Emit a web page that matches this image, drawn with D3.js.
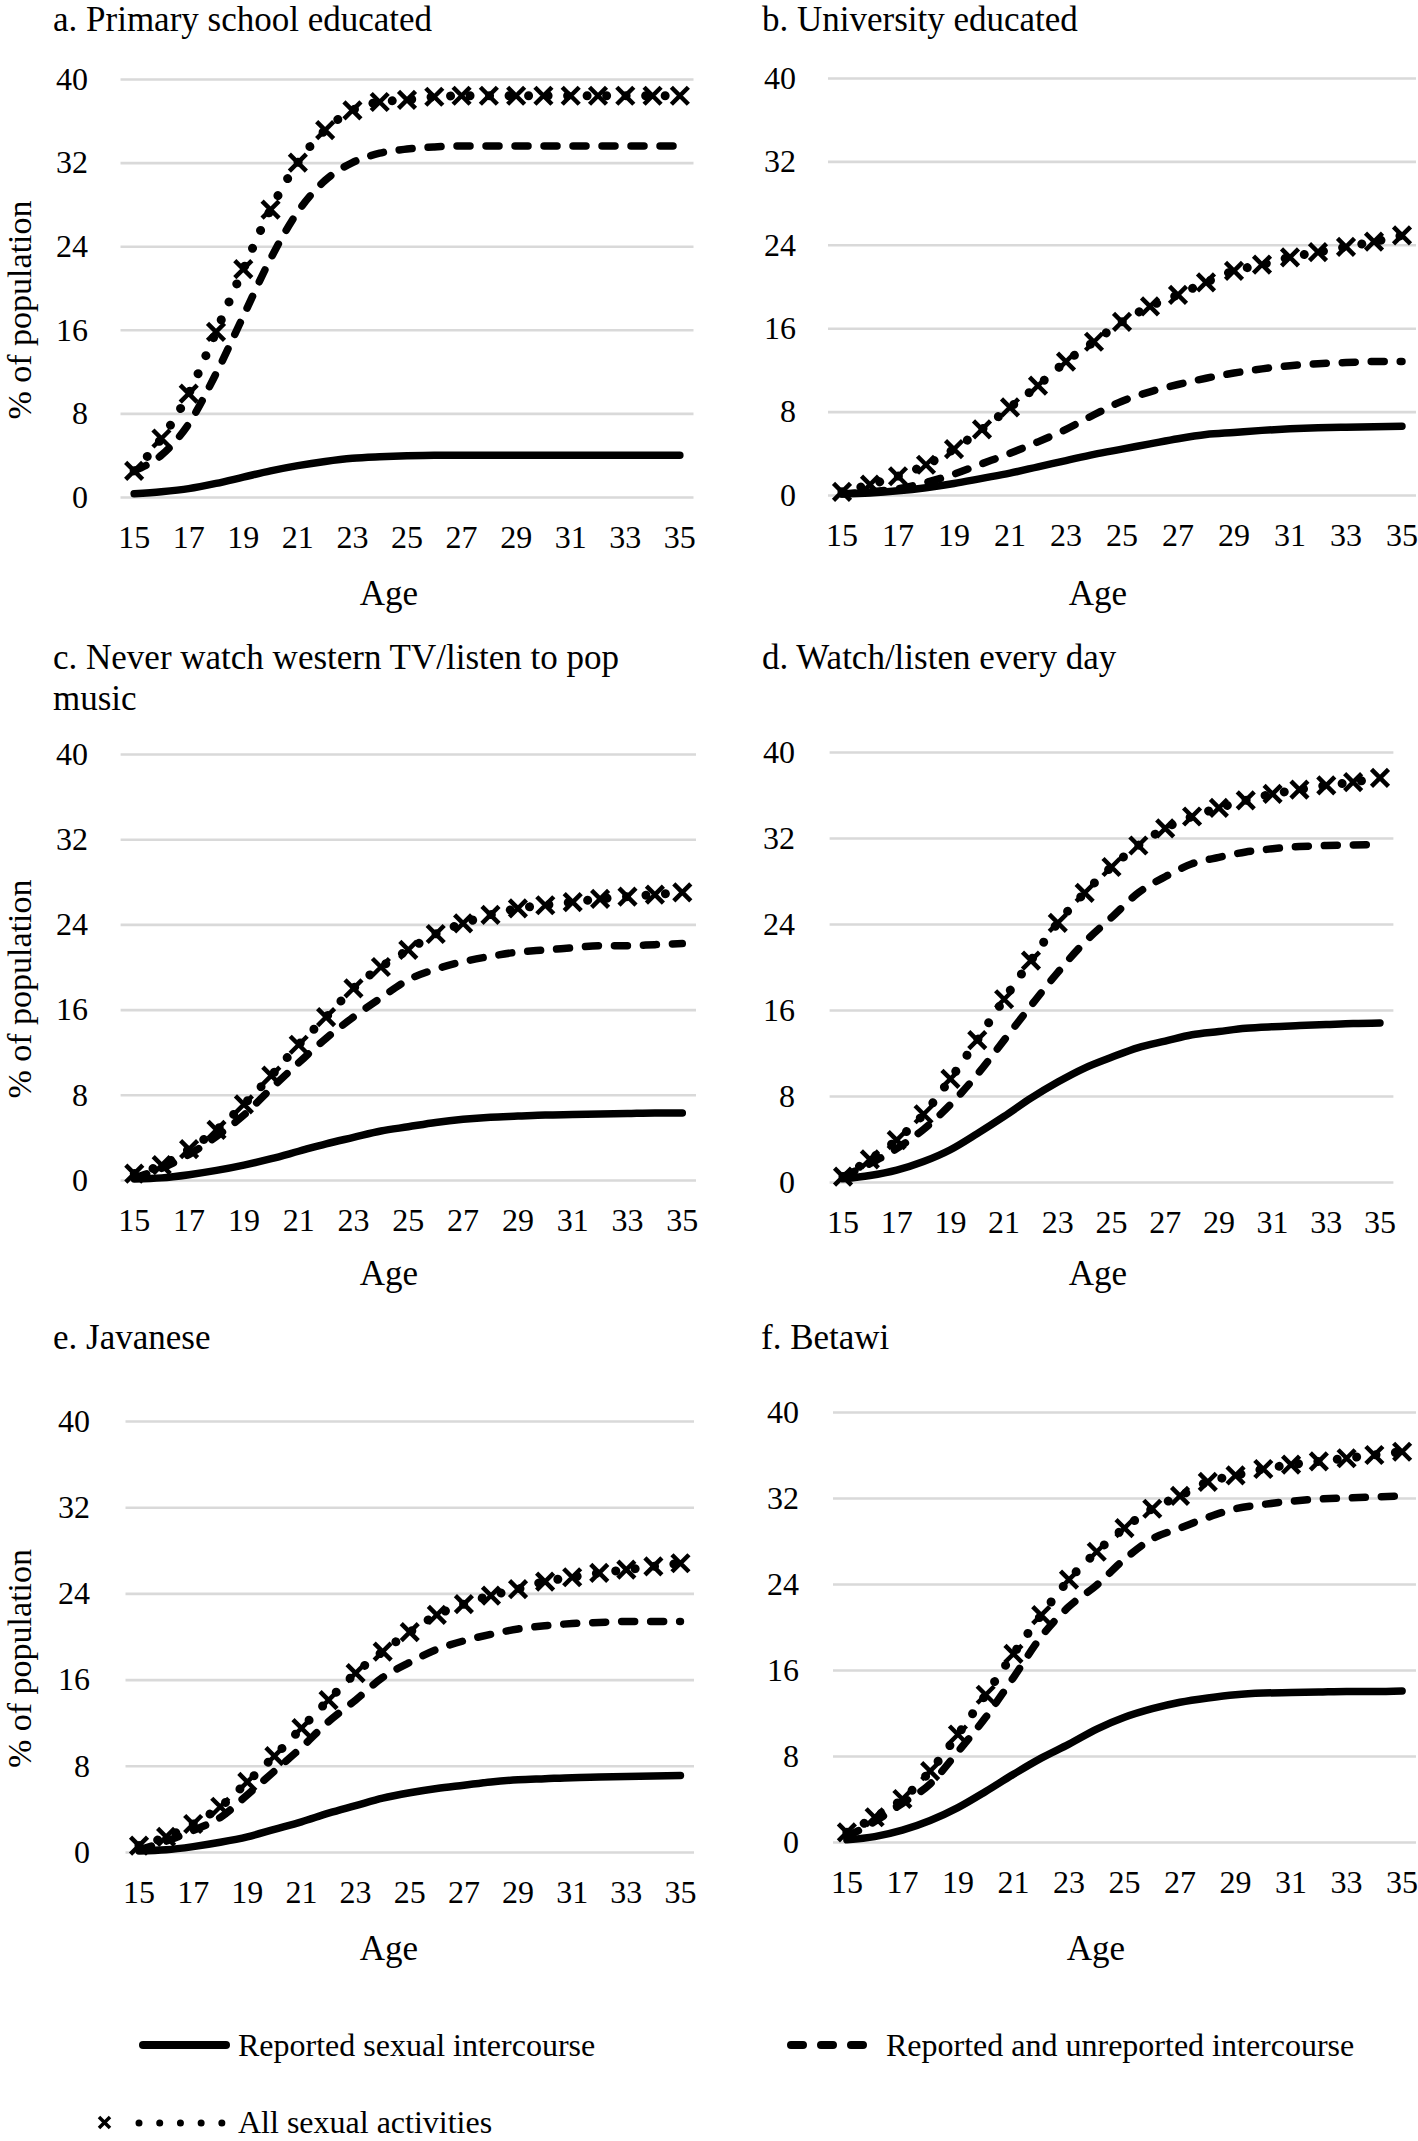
<!DOCTYPE html>
<html><head><meta charset="utf-8">
<script src="https://cdn.jsdelivr.net/npm/d3@7/dist/d3.min.js"></script>
<style>body{margin:0;background:#fff}svg{display:block}</style>
</head><body>
<svg id="chart" width="1418" height="2141"></svg>
<script>
// ---------- data ----------
const ages = [15,16,17,18,19,20,21,22,23,24,25,26,27,28,29,30,31,32,33,34,35];
const ageTickLabels = [15,17,19,21,23,25,27,29,31,33,35];
const yTickValues = [0,8,16,24,32,40];
const seriesNames = ["Reported sexual intercourse","Reported and unreported intercourse","All sexual activities"];

const panelTitles = [
  ["a. Primary school educated"],
  ["b. University educated"],
  ["c. Never watch western TV/listen to pop","music"],
  ["d. Watch/listen every day"],
  ["e. Javanese"],
  ["f. Betawi"]
];

// a. Primary school educated
const reportedA   = [0.3,0.5,0.8,1.3,1.9,2.5,3.0,3.4,3.7,3.85,3.95,4.0,4.0,4.0,4.0,4.0,4.0,4.0,4.0,4.0,4.0];
const unreportedA = [2.5,4.0,7.0,11.8,17.3,22.8,27.3,30.3,32.0,32.9,33.3,33.5,33.6,33.6,33.6,33.6,33.6,33.6,33.6,33.6,33.6];
const allA        = [2.5,5.6,9.9,15.8,21.8,27.5,32.0,35.1,37.0,37.8,38.0,38.3,38.4,38.4,38.4,38.4,38.4,38.4,38.4,38.4,38.4];
// b. University educated
const reportedB   = [0.1,0.2,0.4,0.7,1.1,1.6,2.1,2.7,3.3,3.9,4.4,4.9,5.4,5.8,6.0,6.2,6.35,6.45,6.5,6.55,6.6];
const unreportedB = [0.1,0.3,0.6,1.2,2.0,3.0,4.0,5.1,6.3,7.7,9.0,9.9,10.6,11.2,11.7,12.1,12.4,12.6,12.7,12.8,12.8];
const allB        = [0.3,1.0,1.8,2.9,4.4,6.3,8.4,10.5,12.8,14.7,16.6,18.1,19.2,20.4,21.5,22.1,22.8,23.3,23.8,24.3,24.9];
// c. Never watch western TV / listen to pop music
const reportedC   = [0.1,0.2,0.5,0.9,1.4,2.0,2.7,3.4,4.0,4.6,5.0,5.4,5.7,5.9,6.0,6.1,6.15,6.2,6.25,6.3,6.3];
const unreportedC = [0.2,1.1,2.4,4.1,6.1,8.6,11.0,13.3,15.3,17.1,18.8,19.8,20.5,21.0,21.4,21.6,21.8,22.0,22.0,22.1,22.2];
const allC        = [0.6,1.4,2.9,4.7,7.1,9.8,12.7,15.3,18.0,20.0,21.6,23.1,24.1,24.9,25.5,25.8,26.1,26.4,26.6,26.8,27.0];
// d. Watch/listen every day
const reportedD   = [0.3,0.6,1.1,1.9,3.0,4.5,6.1,7.8,9.3,10.6,11.6,12.5,13.1,13.7,14.0,14.3,14.45,14.55,14.65,14.75,14.8];
const unreportedD = [0.5,1.7,3.1,4.9,7.2,10.0,13.2,16.4,19.5,22.3,24.6,26.9,28.4,29.6,30.2,30.7,31.0,31.2,31.3,31.35,31.4];
const allD        = [0.5,2.1,3.9,6.3,9.6,13.2,17.0,20.6,24.1,26.9,29.3,31.3,32.9,34.0,34.8,35.5,36.1,36.5,36.9,37.2,37.6];
// e. Javanese
const reportedE   = [0.1,0.2,0.5,0.9,1.4,2.1,2.8,3.6,4.3,5.0,5.5,5.9,6.2,6.5,6.7,6.8,6.9,6.95,7.0,7.05,7.1];
const unreportedE = [0.2,1.0,2.0,3.2,5.3,7.5,9.7,12.1,14.1,16.2,17.6,18.8,19.6,20.2,20.7,21.0,21.2,21.3,21.4,21.4,21.4];
const allE        = [0.6,1.4,2.6,4.2,6.5,8.9,11.5,14.1,16.6,18.6,20.4,22.0,23.0,23.8,24.4,25.1,25.5,25.9,26.2,26.5,26.8];
// f. Betawi
const reportedF   = [0.2,0.5,1.1,2.0,3.2,4.7,6.3,7.8,9.1,10.5,11.6,12.4,13.0,13.4,13.7,13.85,13.9,13.95,14.0,14.0,14.05];
const unreportedF = [0.5,1.9,3.6,5.4,8.4,11.6,15.3,19.1,21.9,23.9,26.3,28.2,29.2,30.2,31.0,31.4,31.7,31.9,32.0,32.1,32.2];
const allF        = [0.9,2.3,4.0,6.6,10.0,13.7,17.5,21.1,24.4,27.0,29.2,31.0,32.2,33.5,34.1,34.7,35.1,35.4,35.7,36.0,36.3];

const panelData = [
  [reportedA, unreportedA, allA],
  [reportedB, unreportedB, allB],
  [reportedC, unreportedC, allC],
  [reportedD, unreportedD, allD],
  [reportedE, unreportedE, allE],
  [reportedF, unreportedF, allF]
];

// ---------- layout ----------
const layout = [
  {xl:120.5, xr:693.5, y0:497, y40:79,  tx:53,  ty:31,   ylab:true,  ageY:593,  ageX:389,  tickX:88},
  {xl:828,   xr:1416,  y0:495, y40:78,  tx:762, ty:31,   ylab:false, ageY:593,  ageX:1098, tickX:796},
  {xl:120.6, xr:696,   y0:1180,y40:754, tx:53,  ty:669,  ylab:true,  ageY:1273, ageX:389,  tickX:88},
  {xl:829.6, xr:1393.4,y0:1182,y40:752, tx:762, ty:669,  ylab:false, ageY:1273, ageX:1098, tickX:795},
  {xl:125.5, xr:694,   y0:1852,y40:1421,tx:53,  ty:1349, ylab:true,  ageY:1948, ageX:389,  tickX:90},
  {xl:833,   xr:1416,  y0:1842,y40:1412,tx:761, ty:1349, ylab:false, ageY:1948, ageX:1096, tickX:799}
];

const FONT = "'Liberation Serif','Times New Roman',Times,serif";
const svg = d3.select("#chart");
const styles = [
  {dash:null,        width:7.5, cap:"round"},
  {dash:"13,16",     width:7.5, cap:"round"},
  {dash:"0.01,19.5", width:9,   cap:"round"}
];

layout.forEach((L, i) => {
  const g = svg.append("g");
  const x = d3.scaleBand().domain(ages).range([L.xl, L.xr]).padding(0);
  const xc = a => x(a) + x.bandwidth()/2;
  const y = d3.scaleLinear().domain([0,40]).range([L.y0, L.y40]);

  // gridlines + y tick labels
  const yAxis = d3.axisLeft(y).tickValues(yTickValues).tickSize(-(L.xr - L.xl)).tickPadding(L.xl - L.tickX).tickFormat(d3.format("d"));
  const ya = g.append("g").attr("transform", `translate(${L.xl},0)`).call(yAxis);
  ya.select(".domain").remove();
  ya.selectAll(".tick line").attr("stroke", "#d9d9d9").attr("stroke-width", 2.6);
  ya.selectAll(".tick text").attr("font-family", FONT).attr("font-size", 32).attr("fill", "#000");

  // x tick labels
  const xAxis = d3.axisBottom(x).tickValues(ageTickLabels).tickSize(0).tickPadding(0);
  const xa = g.append("g").attr("transform", `translate(0,${L.y0})`).call(xAxis);
  xa.select(".domain").remove();
  xa.selectAll(".tick text").attr("font-family", FONT).attr("font-size", 32).attr("fill", "#000")
    .attr("dy", null).attr("y", 40).attr("dominant-baseline", "central");

  // titles
  const t = g.append("text").attr("x", L.tx).attr("y", L.ty)
    .attr("font-family", FONT).attr("font-size", 35).attr("fill", "#000");
  panelTitles[i].forEach((line, k) => {
    t.append("tspan").attr("x", L.tx).attr("dy", k === 0 ? 0 : 41).text(line);
  });

  // axis titles
  g.append("text").attr("x", L.ageX).attr("y", L.ageY).attr("text-anchor", "middle")
    .attr("dominant-baseline", "central").attr("font-family", FONT).attr("font-size", 35).text("Age");
  if (L.ylab) {
    const cy = (L.y0 + L.y40)/2 + 22;
    g.append("text").attr("transform", `translate(31,${cy}) rotate(-90)`)
      .attr("text-anchor", "middle")
      .attr("font-family", FONT).attr("font-size", 34).text("% of population");
  }

  // lines
  const line = d3.line().x((d, j) => xc(ages[j])).y(d => y(d)).curve(d3.curveMonotoneX);
  panelData[i].forEach((vals, s) => {
    const st = styles[s];
    g.append("path").attr("d", line(vals)).attr("fill", "none").attr("stroke", "#000")
      .attr("stroke-width", st.width).attr("stroke-linecap", st.cap).attr("stroke-linejoin", "round")
      .attr("stroke-dasharray", st.dash);
  });
  // X markers on the "all sexual activities" series
  const m = 8.5;
  g.append("g").selectAll("path").data(panelData[i][2]).join("path")
    .attr("transform", (d, j) => `translate(${xc(ages[j])},${y(d)})`)
    .attr("d", `M${-m},${-m}L${m},${m}M${-m},${m}L${m},${-m}`)
    .attr("stroke", "#000").attr("stroke-width", 4.5).attr("fill", "none");
});

// ---------- legend ----------
const lg = svg.append("g").attr("font-family", FONT).attr("font-size", 32);
lg.append("line").attr("x1", 143).attr("x2", 226).attr("y1", 2045).attr("y2", 2045)
  .attr("stroke", "#000").attr("stroke-width", 8).attr("stroke-linecap", "round");
lg.append("text").attr("x", 238).attr("y", 2045).attr("dominant-baseline", "central").text(seriesNames[0]);

lg.append("line").attr("x1", 791).attr("x2", 863).attr("y1", 2045).attr("y2", 2045)
  .attr("stroke", "#000").attr("stroke-width", 8).attr("stroke-linecap", "round").attr("stroke-dasharray", "12,18");
lg.append("text").attr("x", 886).attr("y", 2045).attr("dominant-baseline", "central").text(seriesNames[1]);

lg.append("path").attr("d", "M99,2117L110,2128M99,2128L110,2117").attr("stroke", "#000").attr("stroke-width", 3.5);
lg.append("line").attr("x1", 139).attr("x2", 222).attr("y1", 2123).attr("y2", 2123)
  .attr("stroke", "#000").attr("stroke-width", 7).attr("stroke-linecap", "round").attr("stroke-dasharray", "0.01,20.7");
lg.append("text").attr("x", 238).attr("y", 2122).attr("dominant-baseline", "central").text(seriesNames[2]);
</script>
</body></html>
